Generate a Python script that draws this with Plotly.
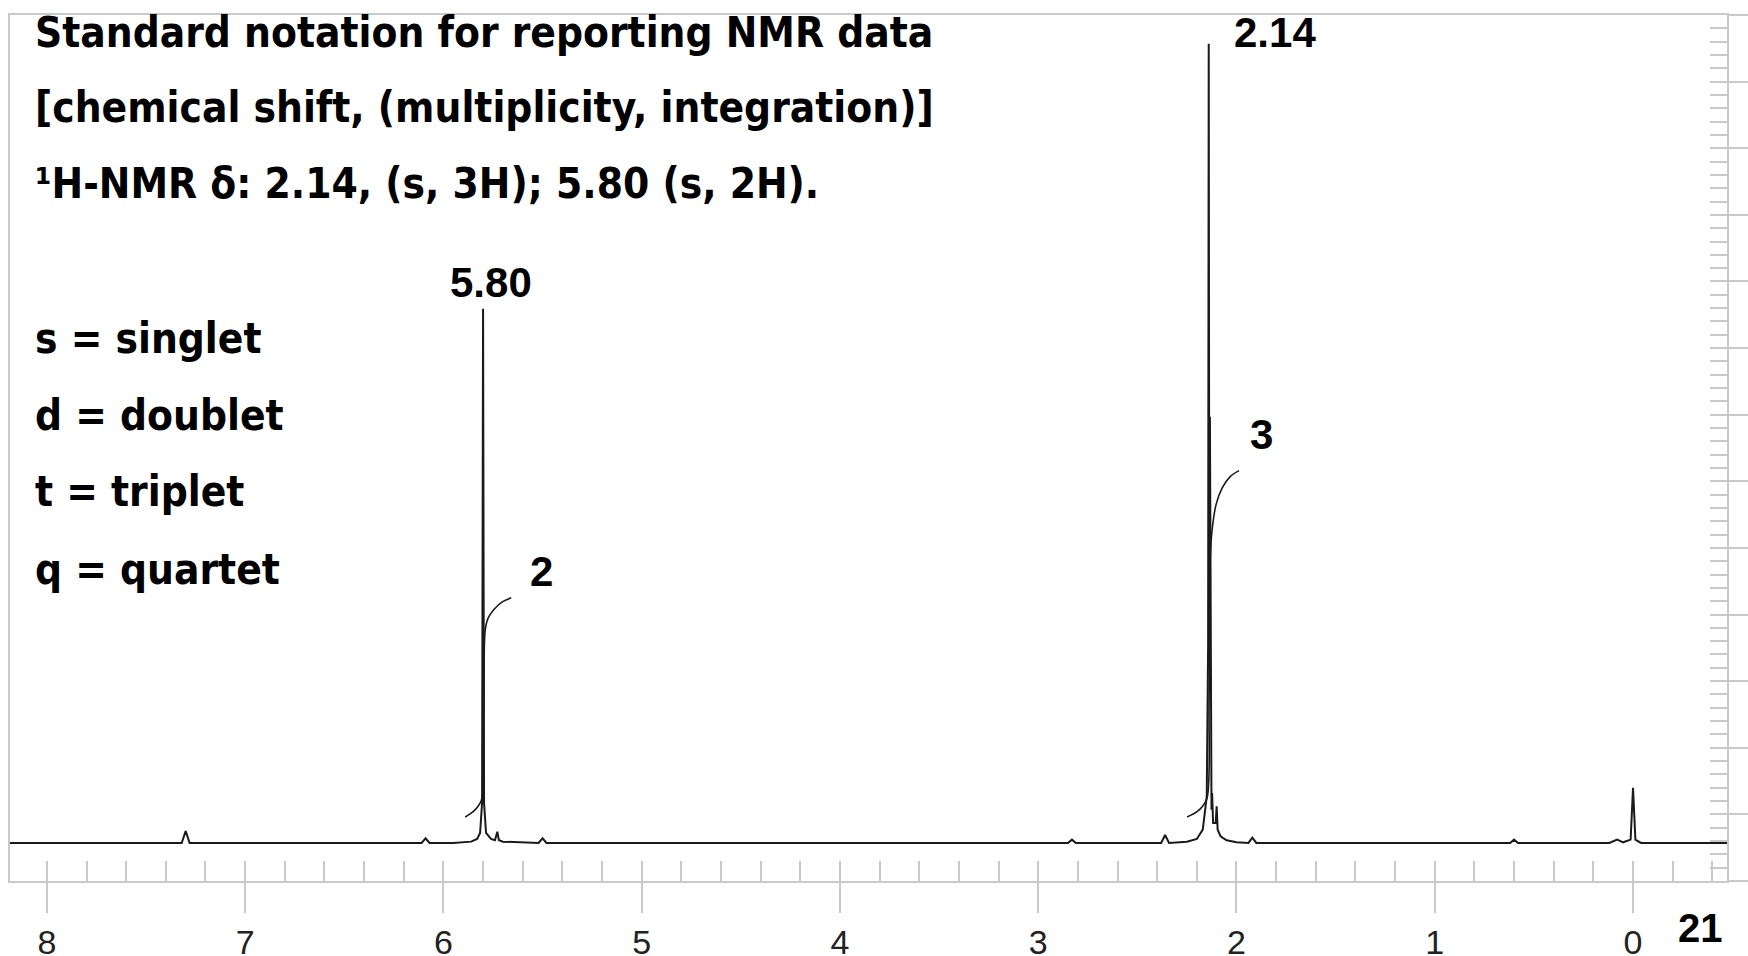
import plotly.graph_objects as go

# ---------------- data ----------------
# spectrum: chemical shift (ppm) and intensity above baseline (arbitrary units)
spec_ppm = [8.20, 7.32, 7.30, 7.28, 6.11, 6.09, 6.07, 5.95, 5.86, 5.83, 5.815, 5.805,
            5.800, 5.795, 5.785, 5.76, 5.74, 5.728, 5.72, 5.70, 5.52, 5.50, 5.48,
            2.85, 2.83, 2.81, 2.38, 2.36, 2.34, 2.25, 2.20, 2.17, 2.15, 2.143,
            2.140, 2.137, 2.134, 2.130, 2.126, 2.123, 2.118, 2.105, 2.100, 2.095,
            2.08, 2.05, 2.00, 1.94, 1.92, 1.90, 0.62, 0.60, 0.58, 0.12, 0.08, 0.05,
            0.012, 0.0, -0.012, -0.04, -0.50]
spec_int = [0.0, 0.0, 0.18, 0.0, 0.0, 0.07, 0.0, 0.0, 0.02, 0.06, 0.15, 0.6,
            8.02, 0.6, 0.15, 0.06, 0.04, 0.17, 0.04, 0.02, 0.0, 0.07, 0.0,
            0.0, 0.05, 0.0, 0.0, 0.12, 0.0, 0.02, 0.06, 0.2, 0.7, 3.0,
            12.0, 3.0, 6.4, 1.2, 0.5, 0.75, 0.3, 0.3, 0.55, 0.2,
            0.1, 0.04, 0.01, 0.0, 0.08, 0.0, 0.0, 0.05, 0.0, 0.0, 0.05, 0.01,
            0.05, 0.83, 0.05, 0.0, 0.0]

# integral curves
int2_ppm = [5.890, 5.850, 5.825, 5.810, 5.801, 5.798, 5.795, 5.789, 5.774, 5.744, 5.703, 5.658]
int2_val = [0.39, 0.47, 0.55, 0.63, 0.75, 1.5, 2.5, 3.20, 3.38, 3.51, 3.62, 3.68]
int3_ppm = [2.249, 2.199, 2.169, 2.148, 2.138, 2.133, 2.123, 2.103, 2.072, 2.032, 1.987]
int3_val = [0.39, 0.47, 0.56, 0.68, 2.15, 4.25, 4.70, 5.08, 5.33, 5.50, 5.59]

# axis
x_ticks = [8, 7, 6, 5, 4, 3, 2, 1, 0]
x_range = [8.186, -0.474]
y_range = [-0.571, 12.431]

# text
header_lines = ["Standard notation for reporting NMR data",
                "[chemical shift, (multiplicity, integration)]",
                "¹H-NMR δ: 2.14, (s, 3H); 5.80 (s, 2H)."]
legend_lines = ["s = singlet", "d = doublet", "t = triplet", "q = quartet"]
peak_labels = ["5.80", "2.14"]
integral_labels = ["2", "3"]
page_number = "21"

# ---------------- figure ----------------
W, H = 1748, 956
ML, MR, MT, MB = 10, 21, 15, 75
PW, PH = W - ML - MR, H - MT - MB

def py2paper(py):
    return (H - MB - py) / PH

def px2paper(px):
    return (px - ML) / PW

LINE = "#1a1a1a"
GRID = "#c9c9c9"

fig = go.Figure()
fig.add_trace(go.Scatter(x=spec_ppm, y=spec_int, mode="lines",
                         line=dict(color=LINE, width=2), hoverinfo="skip"))
fig.add_trace(go.Scatter(x=int2_ppm, y=int2_val, mode="lines", line_shape="spline",
                         line=dict(color=LINE, width=1.6), hoverinfo="skip"))
fig.add_trace(go.Scatter(x=int3_ppm, y=int3_val, mode="lines", line_shape="spline",
                         line=dict(color=LINE, width=1.6), hoverinfo="skip"))
# dummy trace so the overlay axes are drawn
fig.add_trace(go.Scatter(x=[None], y=[None], xaxis="x2", yaxis="y2", hoverinfo="skip"))

fig.update_layout(
    width=W, height=H,
    margin=dict(l=ML, r=MR, t=MT, b=MB, autoexpand=False),
    paper_bgcolor="white", plot_bgcolor="white",
    showlegend=False,
    xaxis=dict(range=x_range, tickvals=x_ticks, ticktext=[str(v) for v in x_ticks],
               ticks="outside", ticklen=30, tickwidth=1.5, tickcolor=GRID,
               showline=True, linecolor=GRID, linewidth=2, mirror=True,
               showgrid=False, zeroline=False, automargin=False,
               tickfont=dict(family="Liberation Sans, Arial", size=34, color="#222"),
               ticklabelstandoff=0),
    xaxis2=dict(range=x_range, overlaying="x", anchor="y", side="bottom",
                tick0=0, dtick=0.2, ticks="inside", ticklen=20, tickwidth=1.5,
                tickcolor=GRID, showticklabels=False, showline=False,
                showgrid=False, zeroline=False, automargin=False),
    yaxis=dict(range=y_range, side="right", tick0=-0.57, dtick=1,
               ticks="outside", ticklen=21, tickwidth=1.5, tickcolor=GRID,
               showticklabels=False, showline=True, linecolor=GRID, linewidth=2,
               mirror=True, showgrid=False, zeroline=False, automargin=False),
    yaxis2=dict(range=y_range, overlaying="y", anchor="x", side="right",
                tick0=-0.57, dtick=0.2, ticks="inside", ticklen=17, tickwidth=1.5,
                tickcolor=GRID, showticklabels=False, showline=False,
                showgrid=False, zeroline=False, automargin=False),
)

body_font = dict(family="DejaVu Sans Condensed, DejaVu Sans", size=42, color="black",
                 weight="bold")
header_y = [32, 108, 184]
legend_y = [338, 415, 492, 569]
for txt, py in zip(header_lines, header_y):
    fig.add_annotation(text=txt, xref="paper", yref="paper", x=px2paper(33), y=py2paper(py),
                       xanchor="left", yanchor="middle", showarrow=False, font=body_font)
for txt, py in zip(legend_lines, legend_y):
    fig.add_annotation(text=txt, xref="paper", yref="paper", x=px2paper(33), y=py2paper(py),
                       xanchor="left", yanchor="middle", showarrow=False, font=body_font)

num_font = dict(family="Liberation Sans, Arial", size=42, color="black", weight="bold")
# peak labels (data coordinates)
fig.add_annotation(text=peak_labels[0], x=5.759, y=8.41, xanchor="center", yanchor="middle",
                   showarrow=False, font=num_font)
fig.add_annotation(text=peak_labels[1], x=1.805, y=py2paper(32), yref="paper",
                   xanchor="center", yanchor="middle", showarrow=False, font=num_font)
fig.add_annotation(text=integral_labels[0], x=5.507, y=4.08, xanchor="center",
                   yanchor="middle", showarrow=False, font=num_font)
fig.add_annotation(text=integral_labels[1], x=1.876, y=6.14, xanchor="center",
                   yanchor="middle", showarrow=False, font=num_font)
fig.add_annotation(text=page_number, xref="paper", yref="paper", x=px2paper(1700),
                   y=py2paper(928), xanchor="center", yanchor="middle", showarrow=False,
                   font=dict(family="Liberation Sans, Arial", size=40, color="black",
                             weight="bold"))

fig.write_html("out.html")
